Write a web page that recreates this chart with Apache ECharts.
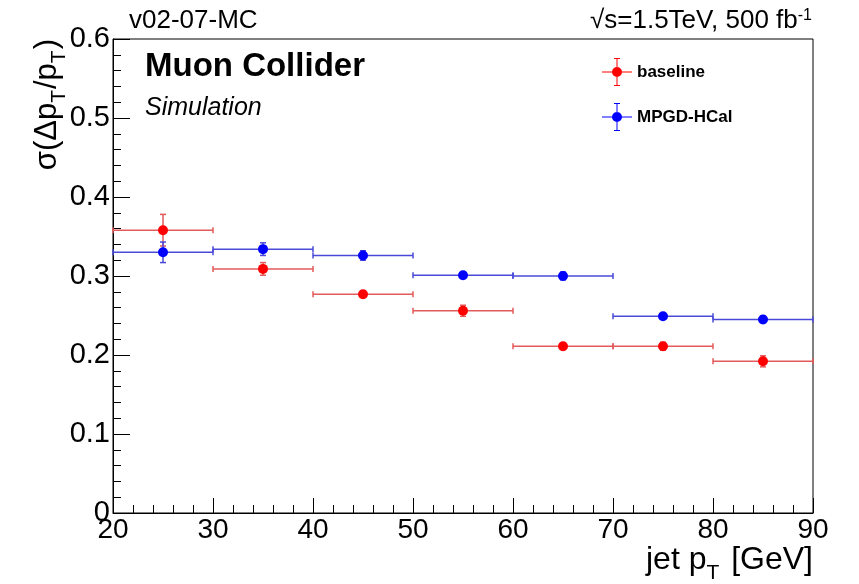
<!DOCTYPE html>
<html><head><meta charset="utf-8">
<script src="https://cdn.jsdelivr.net/npm/echarts@6/dist/echarts.min.js"></script>
<style>html,body{margin:0;padding:0;background:#fff}#c{width:859px;height:584px}</style>
</head><body><div id="c"></div>
<script>
const binCenters = [25, 35, 45, 55, 65, 75, 85];
const binHalfWidth = [5, 5, 5, 5, 5, 5, 5];
const baselineValues = [0.358, 0.309, 0.277, 0.256, 0.211, 0.211, 0.192];
const baselineErrors = [0.020, 0.008, 0.004, 0.007, 0.004, 0.005, 0.007];
const mpgdValues = [0.330, 0.334, 0.326, 0.301, 0.300, 0.249, 0.245];
const mpgdErrors = [0.013, 0.008, 0.006, 0.004, 0.005, 0.003, 0.004];
const seriesNames = ['baseline', 'MPGD-HCal'];

const FONT = '"Liberation Sans", Arial, Helvetica, sans-serif';

function rows(vals, errs) {
  return binCenters.map((x, i) => [x, vals[i], binHalfWidth[i], errs[i]]);
}
function errRenderer(color) {
  return function (params, api) {
    const x = api.value(0), y = api.value(1), ex = api.value(2), ey = api.value(3);
    const pL = api.coord([x - ex, y]), pR = api.coord([x + ex, y]);
    const pT = api.coord([x, y + ey]), pB = api.coord([x, y - ey]);
    const st = { stroke: color, lineWidth: 1.5 };
    const ch = [
      { type: 'line', shape: { x1: pL[0], y1: pL[1], x2: pR[0], y2: pR[1] }, style: st },
      { type: 'line', shape: { x1: pL[0], y1: pL[1] - 3, x2: pL[0], y2: pL[1] + 3 }, style: st },
      { type: 'line', shape: { x1: pR[0], y1: pR[1] - 3, x2: pR[0], y2: pR[1] + 3 }, style: st },
      { type: 'line', shape: { x1: pT[0], y1: pT[1], x2: pB[0], y2: pB[1] }, style: st },
      { type: 'line', shape: { x1: pT[0] - 3, y1: pT[1], x2: pT[0] + 3, y2: pT[1] }, style: st },
      { type: 'line', shape: { x1: pB[0] - 3, y1: pB[1], x2: pB[0] + 3, y2: pB[1] }, style: st }
    ];
    return { type: 'group', children: ch };
  };
}
const iconPath = 'path://M0,27H60V29H0Z M29,0H31V56H29Z M24,0H36V2H24Z M24,54H36V56H24Z M30,18A10,10 0 1 1 29.99,18Z';

const chart = echarts.init(document.getElementById('c'), null, { renderer: 'canvas' });
chart.setOption({
  animation: false,
  backgroundColor: '#ffffff',
  grid: { left: 113, right: 46, top: 39, bottom: 71, show: true, borderColor: '#000', borderWidth: 1, backgroundColor: 'transparent' },
  xAxis: {
    type: 'value', min: 20, max: 90, interval: 10,
    axisLine: { show: true, onZero: false, lineStyle: { color: '#000', width: 1 } },
    axisTick: { show: true, inside: true, length: 15, lineStyle: { color: '#000' } },
    minorTick: { show: true, splitNumber: 5, length: 8, lineStyle: { color: '#000' } },
    splitLine: { show: false },
    axisLabel: { color: '#000', fontSize: 28, fontFamily: FONT, margin: 3 }
  },
  yAxis: {
    type: 'value', min: 0, max: 0.6, interval: 0.1,
    axisLine: { show: true, onZero: false, lineStyle: { color: '#000', width: 1 } },
    axisTick: { show: true, inside: true, length: 17, lineStyle: { color: '#000' } },
    minorTick: { show: true, splitNumber: 5, length: 8, lineStyle: { color: '#000' } },
    splitLine: { show: false },
    axisLabel: { color: '#000', fontSize: 29, fontFamily: FONT, margin: 3 }
  },
  legend: {
    data: seriesNames, orient: 'vertical', left: 602, top: 58, padding: 0,
    itemWidth: 30, itemHeight: 28, itemGap: 17,
    icon: iconPath,
    textStyle: { color: '#000', fontSize: 17, fontWeight: 'bold', fontFamily: FONT }
  },
  graphic: [
    { type: 'text', x: 129, y: 21, style: { text: 'v02-07-MC', font: '26px ' + FONT, fill: '#000', verticalAlign: 'middle', align: 'left' } },
    { type: 'text', x: 812, y: 21, style: { text: '√s=1.5TeV, 500 fb{sup|-1}', font: '26px ' + FONT, fill: '#000', verticalAlign: 'middle', align: 'right',
        rich: { sup: { fontSize: 16, fontFamily: FONT, fill: '#000', verticalAlign: 'top', padding: [0, 0, 10, 0] } } } },
    { type: 'text', x: 145, y: 67, style: { text: 'Muon Collider', font: 'bold 33px ' + FONT, fill: '#000', verticalAlign: 'middle' } },
    { type: 'text', x: 145, y: 108, style: { text: 'Simulation', font: 'italic 25px ' + FONT, fill: '#000', verticalAlign: 'middle' } },
    { type: 'text', x: 813, y: 560, style: { text: 'jet p{sub|T} [GeV]', font: '32px ' + FONT, fill: '#000', verticalAlign: 'middle', align: 'right',
        rich: { sub: { fontSize: 21, fontFamily: FONT, fill: '#000', padding: [26, 3, 0, 0] } } } },
    { type: 'text', x: 47, y: 39, rotation: Math.PI / 2, style: { text: 'σ(Δp{sub|T}/p{sub|T})', font: '31px ' + FONT, fill: '#000', verticalAlign: 'middle', align: 'right',
        rich: { sub: { fontSize: 21, fontFamily: FONT, fill: '#000', padding: [24, 1, 0, 0] } } } }
  ],
  series: [
    { type: 'custom', name: 'baselineErr', data: rows(baselineValues, baselineErrors), renderItem: errRenderer('#e45a5a'), z: 2, silent: true },
    { type: 'custom', name: 'mpgdErr', data: rows(mpgdValues, mpgdErrors), renderItem: errRenderer('#4a4ad8'), z: 2, silent: true },
    { type: 'scatter', name: seriesNames[0], data: binCenters.map((x, i) => [x, baselineValues[i]]), symbol: 'circle', symbolSize: 10, itemStyle: { color: '#ff0000', opacity: 1 }, z: 3 },
    { type: 'scatter', name: seriesNames[1], data: binCenters.map((x, i) => [x, mpgdValues[i]]), symbol: 'circle', symbolSize: 10, itemStyle: { color: '#0000ff', opacity: 1 }, z: 3 }
  ]
});
</script>
</body></html>
